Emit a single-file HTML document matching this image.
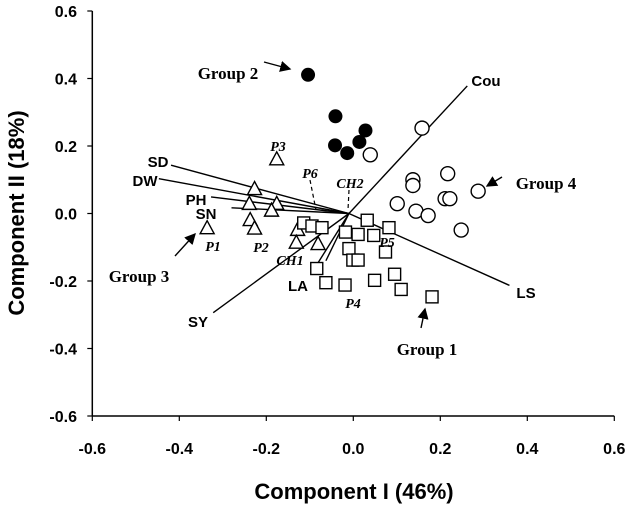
<!DOCTYPE html>
<html><head><meta charset="utf-8"><style>
html,body{margin:0;padding:0;background:#fff;}
svg{display:block;}
.tk{font-family:"Liberation Sans",Arial,sans-serif;font-weight:bold;font-size:16px;fill:#000;}
.ttl{font-family:"Liberation Sans",Arial,sans-serif;font-weight:bold;font-size:22px;fill:#000;}
.vl{font-family:"Liberation Sans",Arial,sans-serif;font-weight:bold;font-size:15px;fill:#000;}
.gl{font-family:"Liberation Serif","Times New Roman",serif;font-weight:bold;font-size:17px;fill:#000;}
.pl{font-family:"Liberation Serif","Times New Roman",serif;font-weight:bold;font-style:italic;font-size:14px;fill:#000;}
</style></head><body>
<svg id="chart" width="630" height="509" viewBox="0 0 630 509" xmlns="http://www.w3.org/2000/svg">
<defs><marker id="ah" markerWidth="8" markerHeight="8" refX="7" refY="4" orient="auto"><path d="M0,0 L8,4 L0,8 z" fill="#000"/></marker></defs>
<g id="axes"></g>
<g id="vectors"></g>
<g id="marks"></g>
<g id="labels"></g>
</svg>
<script>
const xTicks = [-0.6,-0.4,-0.2,0.0,0.2,0.4,0.6];
const yTicks = [-0.6,-0.4,-0.2,0.0,0.2,0.4,0.6];
const group2X = [-0.104,-0.041,-0.042,-0.014,0.014,0.028];
const group2Y = [0.411,0.288,0.202,0.179,0.212,0.246];
const group4X = [0.039,0.158,0.137,0.137,0.217,0.287,0.101,0.144,0.172,0.211,0.222,0.248];
const group4Y = [0.174,0.253,0.100,0.083,0.118,0.066,0.029,0.007,-0.006,0.044,0.044,-0.049];
const group3X = [-0.176,-0.227,-0.239,-0.176,-0.188,-0.237,-0.227,-0.336,-0.128,-0.131,-0.081];
const group3Y = [0.162,0.074,0.030,0.030,0.010,-0.018,-0.043,-0.042,-0.047,-0.085,-0.089];
const group1X = [-0.114,-0.095,-0.072,0.032,-0.018,0.011,0.047,0.082,-0.010,-0.001,0.011,0.074,-0.084,-0.063,-0.019,0.049,0.095,0.110,0.181];
const group1Y = [-0.028,-0.037,-0.042,-0.020,-0.055,-0.062,-0.065,-0.042,-0.104,-0.138,-0.138,-0.114,-0.163,-0.205,-0.212,-0.198,-0.180,-0.225,-0.247];
const vecNames = ["SD","DW","PH","SN","Cou","LS","SY","LA","LA2"];
const vecX = [-0.419,-0.447,-0.327,-0.280,0.262,0.359,-0.322,-0.081,-0.063];
const vecY = [0.143,0.103,0.049,0.017,0.378,-0.213,-0.294,-0.146,-0.140];

const NS="http://www.w3.org/2000/svg";
const X0=92.3,X1=614.3,Y0=416,Y1=11;
function sx(v){return X0+(v+0.6)/1.2*(X1-X0);}
function sy(v){return Y0-(v+0.6)/1.2*(Y0-Y1);}
function mk(tag,attrs,parent,text){const e=document.createElementNS(NS,tag);for(const k in attrs)e.setAttribute(k,attrs[k]);if(text!==undefined)e.textContent=text;parent.appendChild(e);return e;}
const axes=document.getElementById('axes'),vg=document.getElementById('vectors'),mg=document.getElementById('marks'),lg=document.getElementById('labels');
let e;
e=mk('line',{x1:X0,y1:Y1,x2:X0,y2:Y0,stroke:'#000','stroke-width':1.5},axes);


e=mk('line',{x1:X0,y1:Y0,x2:X1,y2:Y0,stroke:'#000','stroke-width':1.5},axes);


xTicks.forEach(t=>{
 mk('line',{x1:sx(t),y1:Y0,x2:sx(t),y2:Y0+5,stroke:'#000','stroke-width':1.2},axes);
 e=mk('text',{x:sx(t),y:Y0+38,'text-anchor':'middle',class:'tk'},axes,t.toFixed(1));
 
 
});
yTicks.forEach(t=>{
 mk('line',{x1:X0-5,y1:sy(t),x2:X0,y2:sy(t),stroke:'#000','stroke-width':1.2},axes);
 e=mk('text',{x:77,y:sy(t)+6,'text-anchor':'end',class:'tk'},axes,t.toFixed(1));
 
 
});
e=mk('text',{x:354,y:499,'text-anchor':'middle',class:'ttl'},axes,'Component I (46%)');


e=mk('text',{x:0,y:0,'text-anchor':'middle',class:'ttl',transform:'translate(24,213) rotate(-90)'},axes,'Component II (18%)');



const ox=-0.01,oy=0.0;
vecNames.forEach((n,i)=>{
 e=mk('line',{x1:sx(ox),y1:sy(oy),x2:sx(vecX[i]),y2:sy(vecY[i]),stroke:'#000','stroke-width':1.4},vg);
 
 
});
const vlab=[["SD",158,167],["DW",145,186],["PH",196,205],["SN",206,219],["Cou",486,86],["LS",526,298],["SY",198,327],["LA",298,291]];
vlab.forEach(v=>{e=mk('text',{x:v[1],y:v[2],'text-anchor':'middle',class:'vl'},lg,v[0]);
 
 });

group2X.forEach((x,i)=>{e=mk('circle',{cx:sx(x),cy:sy(group2Y[i]),r:7,fill:'#000'},mg);
 
 });
group4X.forEach((x,i)=>{e=mk('circle',{cx:sx(x),cy:sy(group4Y[i]),r:7,fill:'#fff',stroke:'#000','stroke-width':1.4},mg);
 
 });
group3X.forEach((x,i)=>{const cx=sx(x),cy=sy(group3Y[i]);
 e=mk('polygon',{points:`${cx},${cy-7} ${cx-7},${cy+6} ${cx+7},${cy+6}`,fill:'#fff',stroke:'#000','stroke-width':1.4},mg);
 
 });
group1X.forEach((x,i)=>{const cx=sx(x),cy=sy(group1Y[i]);
 e=mk('rect',{x:cx-6,y:cy-6,width:12,height:12,fill:'#fff',stroke:'#000','stroke-width':1.4},mg);
 
 });

const glab=[["Group 2",228,79],["Group 4",546,189],["Group 3",139,282],["Group 1",427,355]];
glab.forEach(g=>{e=mk('text',{x:g[1],y:g[2],'text-anchor':'middle',class:'gl'},lg,g[0]);
 
 });
const arrows=[[264,62,290,69],[502,177,487,186],[175,256,195,234],[421,328,425,309]];
arrows.forEach(a=>{e=mk('line',{x1:a[0],y1:a[1],x2:a[2],y2:a[3],stroke:'#000','stroke-width':1.4,'marker-end':'url(#ah)'},lg);
 
 });
const plab=[["P3",278,151],["P6",310,178],["CH2",350,188],["P1",213,251],["P2",261,252],["CH1",290,265],["P5",387,247],["P4",353,308]];
plab.forEach(p=>{e=mk('text',{x:p[1],y:p[2],'text-anchor':'middle',class:'pl'},lg,p[0]);
 
 });
[[310,180,316,210],[349,190,348,210]].forEach(d=>{e=mk('line',{x1:d[0],y1:d[1],x2:d[2],y2:d[3],stroke:'#000','stroke-width':1.2,'stroke-dasharray':'4,3'},lg);
 
 });
</script>
</body></html>
